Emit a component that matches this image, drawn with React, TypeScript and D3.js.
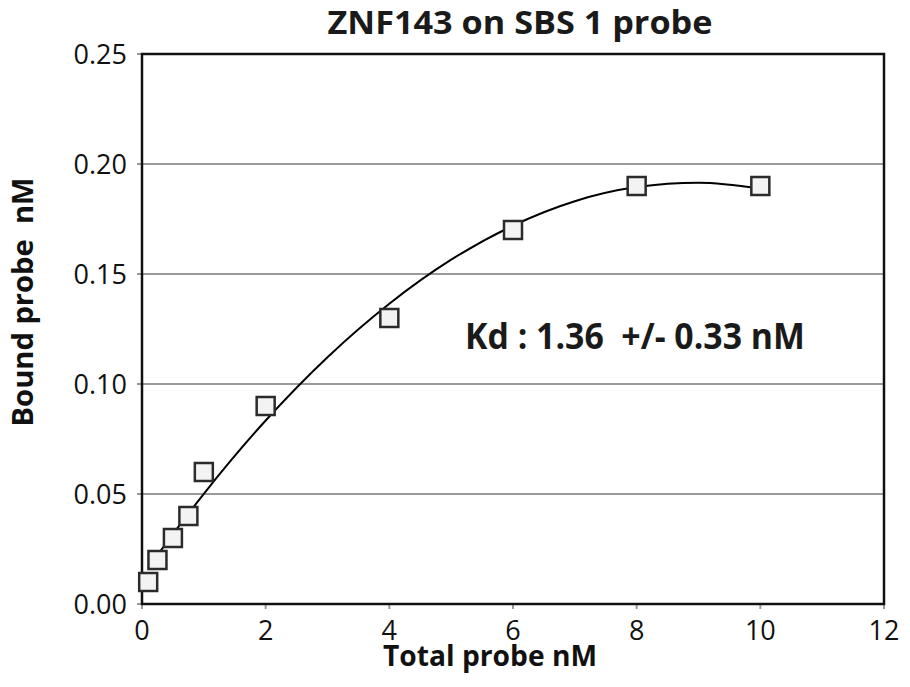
import React from "react";
import * as d3 from "d3";

const totalProbe = [0.1, 0.25, 0.5, 0.75, 1, 2, 4, 6, 8, 10];
const boundProbe = [0.01, 0.02, 0.03, 0.04, 0.06, 0.09, 0.13, 0.17, 0.19, 0.19];

// Fitted curve
const fitX = [0.1, 0.5, 1, 2, 3, 4, 5, 6, 7, 8, 9, 10];
const fitY = [0.0164, 0.0318, 0.0501, 0.0834, 0.1122, 0.1365, 0.1565, 0.172, 0.1831, 0.1895, 0.1915, 0.1888];

const xTicks = [0, 2, 4, 6, 8, 10, 12];
const yTicks = [0, 0.05, 0.1, 0.15, 0.2, 0.25];
const yTickLabels = ["0.00", "0.05", "0.10", "0.15", "0.20", "0.25"];

const title = "ZNF143 on SBS 1 probe";
const xTitle = "Total probe nM";
const yTitle = "Bound probe  nM";
const annotation = "Kd : 1.36  +/- 0.33 nM";

const W = 910;
const H = 687;
const L = 142, R = 884, T = 54, B = 604;

export default function App() {
  const x = d3.scaleLinear().domain([0, 12]).range([L, R]);
  const y = d3.scaleLinear().domain([0, 0.25]).range([B, T]);
  const line = d3
    .line<number>()
    .x((_, i) => x(fitX[i]))
    .y((d) => y(d))
    .curve(d3.curveMonotoneX);
  const font = "'Open Sans', 'Noto Sans', sans-serif";
  const sq = 18;
  const pre = { whiteSpace: "pre" as const };
  return (
    <div style={{ position: "fixed", left: 0, top: 0 }}>
      <svg width={W} height={H} style={{ display: "block", background: "#fff" }} fontFamily={font}>
        <rect x={0} y={0} width={W} height={H} fill="#fff" />
        {yTicks.slice(1, -1).map((t) => (
          <line key={t} x1={L} x2={R} y1={y(t)} y2={y(t)} stroke="#9a9a9a" strokeWidth={2} />
        ))}
        {yTicks.map((t) => (
          <line key={"yt" + t} x1={L - 5} x2={L} y1={y(t)} y2={y(t)} stroke="#9a9a9a" strokeWidth={2} />
        ))}
        {xTicks.map((t) => (
          <line key={"xt" + t} x1={x(t)} x2={x(t)} y1={B} y2={B + 5} stroke="#9a9a9a" strokeWidth={2} />
        ))}
        <rect x={L} y={T} width={R - L} height={B - T} fill="none" stroke="#111" strokeWidth={2.5} />
        <path d={line(fitY) || ""} fill="none" stroke="#000" strokeWidth={2} />
        {totalProbe.map((v, i) => (
          <rect
            key={i}
            x={x(v) - sq / 2}
            y={y(boundProbe[i]) - sq / 2}
            width={sq}
            height={sq}
            fill="#f3f3f3"
            stroke="#2b2b2b"
            strokeWidth={2.5}
          />
        ))}
        {yTicks.map((t, i) => (
          <text key={"yl" + t} x={127} y={y(t) + 10} textAnchor="end" fontSize={27} fill="#111">
            {yTickLabels[i]}
          </text>
        ))}
        {xTicks.map((t) => (
          <text key={"xl" + t} x={x(t)} y={640} textAnchor="middle" fontSize={27} fill="#111">
            {t}
          </text>
        ))}
        <text x={520} y={34} textAnchor="middle" fontSize={33} fontWeight="bold" fill="#1a1a1a"
          textLength={385} lengthAdjust="spacingAndGlyphs" style={pre}>
          {title}
        </text>
        <text x={490} y={666} textAnchor="middle" fontSize={29} fontWeight="bold" fill="#111"
          textLength={214} lengthAdjust="spacingAndGlyphs" style={pre}>
          {xTitle}
        </text>
        <text transform={`translate(33,302) rotate(-90)`} textAnchor="middle" fontSize={29} fontWeight="bold" fill="#111"
          textLength={249} lengthAdjust="spacingAndGlyphs" style={pre}>
          {yTitle}
        </text>
        <text x={635} y={349} textAnchor="middle" fontSize={36} fontWeight="bold" fill="#1a1a1a"
          textLength={340} lengthAdjust="spacingAndGlyphs" style={pre}>
          {annotation}
        </text>
      </svg>
    </div>
  );
}
